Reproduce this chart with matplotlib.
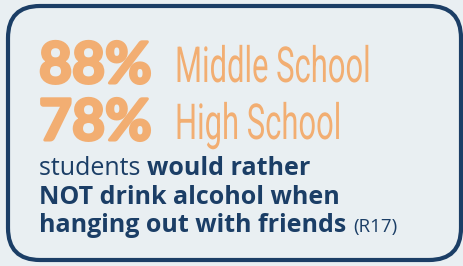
import matplotlib.pyplot as plt
from matplotlib.patches import FancyBboxPatch
from matplotlib.patheffects import AbstractPathEffect, withStroke
from matplotlib.transforms import Affine2D

# data
percents = ["88%", "78%"]
schools = ["Middle School", "High School"]
line1_normal = "students "
line1_bold = "would rather"
line2 = "NOT drink alcohol when"
line3_bold = "hanging out with friends"
source = "(R17)"

bg = "#e9eff2"
navy = "#1b3e66"
orange = "#f2ae72"


class Stretch(AbstractPathEffect):
    # make the glyphs taller (condensed look), text stays a real text object
    def __init__(self, sx, sy):
        super().__init__()
        self.sx, self.sy = sx, sy

    def draw_path(self, renderer, gc, tpath, affine, rgbFace=None):
        renderer.draw_path(gc, tpath, Affine2D().scale(self.sx, self.sy) + affine, rgbFace)


W, H = 464, 266
fig = plt.figure(figsize=(W / 100, H / 100), dpi=100)
fig.patch.set_facecolor(bg)
ax = fig.add_axes([0, 0, 1, 1])
ax.set_xlim(0, W)
ax.set_ylim(H, 0)
ax.axis("off")

box = FancyBboxPatch((8, 6), 453, 254, boxstyle="round,pad=0,rounding_size=32",
                     fc=bg, ec=navy, lw=3)
ax.add_patch(box)

big_font = ["Lato", "DejaVu Sans"]
cond_font = ["Roboto", "DejaVu Sans"]
body_font = ["Open Sans", "DejaVu Sans"]

for i, (p, s) in enumerate(zip(percents, schools)):
    y = 83 + i * 57
    ax.text(39, y, p, fontsize=41, fontweight="bold", family=big_font,
            color=orange, va="baseline", ha="left",
            path_effects=[withStroke(linewidth=2.2, foreground=orange)])
    ax.text(175, y - 1, s, fontsize=22.3, family=cond_font,
            color=orange, va="baseline", ha="left",
            path_effects=[Stretch(1.0, 1.6)])

fs = 18
t = ax.text(39, 175, line1_normal, fontsize=fs, family=body_font,
            color=navy, va="baseline")
fig.canvas.draw()
bb = t.get_window_extent()
x2 = ax.transData.inverted().transform((bb.x1, 0))[0]
ax.text(x2, 175, line1_bold, fontsize=fs, family=body_font, fontweight="bold",
        color=navy, va="baseline")
ax.text(39, 204, line2, fontsize=fs, family=body_font, fontweight="bold",
        color=navy, va="baseline")
t3 = ax.text(39, 232, line3_bold, fontsize=fs, family=body_font, fontweight="bold",
             color=navy, va="baseline")
fig.canvas.draw()
bb = t3.get_window_extent()
x3 = ax.transData.inverted().transform((bb.x1, 0))[0]
ax.text(x3 + 7, 232, source, fontsize=13.5, family=body_font,
        color=navy, va="baseline")

fig.savefig("out.png", dpi=100, facecolor=bg)
